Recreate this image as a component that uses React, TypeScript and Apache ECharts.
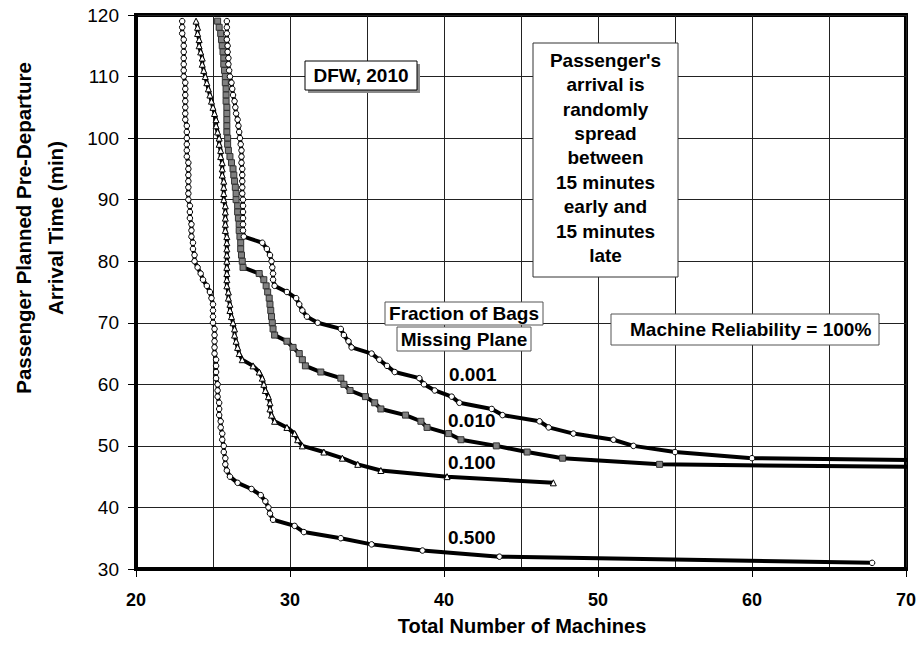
import React, { useEffect, useRef } from "react";
import * as echarts from "echarts";

// Planned pre-departure arrival time (min), one point per minute
const arrivalTimes = [
  119, 118, 117, 116, 115, 114, 113, 112, 111, 110,
  109, 108, 107, 106, 105, 104, 103, 102, 101, 100,
  99, 98, 97, 96, 95, 94, 93, 92, 91, 90,
  89, 88, 87, 86, 85, 84, 83, 82, 81, 80,
  79, 78, 77, 76, 75, 74, 73, 72, 71, 70,
  69, 68, 67, 66, 65, 64, 63, 62, 61, 60,
  59, 58, 57, 56, 55, 54, 53, 52, 51, 50,
  49, 48, 47, 46, 45, 44, 43, 42, 41, 40,
  39, 38, 37, 36, 35, 34, 33, 32, 31,
];

// Total number of machines needed, for each arrival time above (same order)
const machines0500 = [
  23.0, 23.0, 23.0, 23.1, 23.1, 23.1, 23.1, 23.1, 23.1, 23.1,
  23.2, 23.2, 23.2, 23.2, 23.2, 23.2, 23.2, 23.3, 23.3, 23.3,
  23.3, 23.3, 23.3, 23.4, 23.4, 23.4, 23.4, 23.4, 23.4, 23.4,
  23.5, 23.5, 23.5, 23.6, 23.6, 23.6, 23.7, 23.7, 23.8, 23.8,
  24.0, 24.2, 24.35, 24.6, 24.8, 24.9, 25.0, 25.0, 25.0, 25.0,
  25.1, 25.1, 25.1, 25.1, 25.1, 25.2, 25.2, 25.2, 25.2, 25.3,
  25.3, 25.3, 25.4, 25.4, 25.4, 25.5, 25.5, 25.6, 25.6, 25.7,
  25.7, 25.8, 25.8, 25.9, 26.1, 26.6, 27.5, 28.1, 28.4, 28.6,
  28.7, 28.9, 30.3, 30.9, 33.3, 35.3, 38.6, 43.6, 67.8,
];
const machines0100 = [
  23.9, 24.0, 24.0, 24.1, 24.1, 24.2, 24.3, 24.3, 24.4, 24.5,
  24.6, 24.7, 24.8, 24.9, 25.0, 25.1, 25.2, 25.2, 25.3, 25.4,
  25.4, 25.5, 25.5, 25.6, 25.6, 25.6, 25.7, 25.7, 25.7, 25.7,
  25.8, 25.8, 25.8, 25.8, 25.8, 25.9, 25.9, 25.9, 25.9, 25.9,
  25.9, 25.9, 25.9, 25.9, 26.0, 26.0, 26.1, 26.1, 26.2, 26.3,
  26.4, 26.4, 26.5, 26.6, 26.7, 26.9, 27.6, 28.0, 28.2, 28.3,
  28.4, 28.6, 28.7, 28.7, 28.8, 29.0, 29.8, 30.3, 30.5, 30.8,
  32.2, 33.4, 34.4, 35.9, 40.2, 47.1,
];
const machines0010 = [
  25.3, 25.4, 25.5, 25.55, 25.6, 25.65, 25.7, 25.7, 25.75, 25.8,
  25.8, 25.85, 25.85, 25.85, 25.9, 25.9, 25.9, 25.9, 25.9, 25.95,
  25.95, 26.0, 26.1, 26.2, 26.3, 26.35, 26.4, 26.45, 26.5, 26.5,
  26.6, 26.6, 26.65, 26.7, 26.7, 26.75, 26.8, 26.8, 26.85, 26.9,
  26.95, 28.0, 28.3, 28.45, 28.55, 28.65, 28.7, 28.75, 28.8, 28.85,
  28.9, 29.0, 29.8, 30.2, 30.6, 30.8, 31.0, 32.0, 33.3, 33.5,
  33.9, 34.9, 35.5, 35.9, 37.5, 38.5, 38.9, 40.3, 41.1, 43.4,
  45.4, 47.7, 54.0, 94.0,
];
const machines0001 = [
  25.9, 25.9, 25.9, 25.9, 25.95, 25.95, 26.0, 26.0, 26.05, 26.1,
  26.2, 26.25, 26.3, 26.4, 26.45, 26.5, 26.6, 26.65, 26.7, 26.75,
  26.8, 26.85, 26.85, 26.85, 26.9, 26.9, 26.9, 26.9, 26.9, 26.95,
  26.95, 26.95, 26.95, 26.95, 26.95, 27.0, 28.2, 28.5, 28.7, 28.8,
  28.85, 28.9, 28.9, 29.0, 29.8, 30.4, 30.6, 30.8, 31.1, 31.8,
  33.3, 33.5, 33.8, 34.0, 35.3, 35.8, 36.3, 36.8, 38.4, 38.7,
  39.4, 40.5, 41.0, 43.1, 43.8, 46.2, 46.8, 48.4, 51.0, 52.3,
  55.0, 60.0, 93.0,
];

const seriesNames = ["0.500", "0.100", "0.010", "0.001"];
const xTicks = [20, 30, 40, 50, 60, 70];
const yTicks = [30, 40, 50, 60, 70, 80, 90, 100, 110, 120];

const FONT = "'Liberation Sans', Arial, sans-serif";

function pairs(xs: number[]) {
  return xs.map((x, i) => [x, arrivalTimes[i]]);
}

export default function App() {
  const ref = useRef<HTMLDivElement>(null);

  useEffect(() => {
    document.body.style.margin = "0";
    if (!ref.current) return;
    const chart = echarts.init(ref.current, null, { renderer: "svg" });

    const lineBase = {
      type: "line" as const,
      showAllSymbol: true,
      clip: true,
      smooth: false,
      lineStyle: { color: "#000", width: 4 },
      z: 3,
    };

    const annText = (
      text: string,
      x: number,
      y: number,
      align: string = "center",
      extra: any = {}
    ) => ({
      type: "text",
      x,
      y,
      z: 20,
      style: {
        text,
        fill: "#000",
        font: `bold 19px ${FONT}`,
        textAlign: align,
        textVerticalAlign: "middle",
        ...extra,
      },
    });

    const box = (x: number, y: number, w: number, h: number, stroke = "#555") => ({
      type: "rect",
      z: 15,
      shape: { x, y, width: w, height: h },
      style: { fill: "#fff", stroke, lineWidth: 1 },
    });

    const option: any = {
      animation: false,
      backgroundColor: "#fff",
      grid: {
        left: 136,
        right: 11,
        top: 15,
        bottom: 78,
        show: true,
        borderColor: "#000",
        borderWidth: 4,
        backgroundColor: "transparent",
      },
      xAxis: {
        type: "value",
        min: xTicks[0],
        max: xTicks[xTicks.length - 1],
        interval: 10,
        axisLine: { show: true, lineStyle: { color: "#000", width: 4 } },
        axisTick: { show: true, length: 8, lineStyle: { color: "#000", width: 1 } },
        minorTick: { show: false, splitNumber: 2 },
        minorSplitLine: { show: true, lineStyle: { color: "#222", width: 1 } },
        splitLine: { show: true, lineStyle: { color: "#222", width: 1 } },
        axisLabel: {
          color: "#000",
          fontFamily: FONT,
          fontWeight: "bold",
          fontSize: 18,
          margin: 22,
        },
      },
      yAxis: {
        type: "value",
        min: yTicks[0],
        max: yTicks[yTicks.length - 1],
        interval: 10,
        axisLine: { show: true, lineStyle: { color: "#000", width: 4 } },
        axisTick: { show: true, length: 8, lineStyle: { color: "#000", width: 1 } },
        splitLine: { show: true, lineStyle: { color: "#222", width: 1 } },
        axisLabel: {
          color: "#000",
          fontFamily: FONT,
          fontSize: 19,
          margin: 17,
        },
      },
      series: [
        {
          ...lineBase,
          name: seriesNames[0],
          data: pairs(machines0500),
          symbol: "circle",
          symbolSize: 5.5,
          itemStyle: { color: "#fff", borderColor: "#000", borderWidth: 1 },
        },
        {
          ...lineBase,
          name: seriesNames[1],
          data: pairs(machines0100),
          symbol: "triangle",
          symbolSize: 6,
          itemStyle: { color: "#fff", borderColor: "#000", borderWidth: 1 },
        },
        {
          ...lineBase,
          name: seriesNames[2],
          data: pairs(machines0010),
          symbol: "rect",
          symbolSize: 6,
          itemStyle: { color: "#808080", borderColor: "#333", borderWidth: 1 },
        },
        {
          ...lineBase,
          name: seriesNames[3],
          data: pairs(machines0001),
          symbol: "circle",
          symbolSize: 5.5,
          itemStyle: { color: "#fff", borderColor: "#000", borderWidth: 1 },
        },
      ],
      graphic: [
        // DFW label with shadow
        {
          type: "rect",
          z: 14,
          shape: { x: 308, y: 64, width: 112, height: 29 },
          style: { fill: "#8a8a8a" },
        },
        box(305, 61, 112, 29, "#000"),
        annText("DFW, 2010", 361, 75.5),
        // Passenger arrival description
        box(533, 43, 145, 234, "#333"),
        annText(
          "Passenger's\narrival is\nrandomly\nspread\nbetween\n15 minutes\nearly and\n15 minutes\nlate",
          605.5,
          48,
          "center",
          { textVerticalAlign: "top", lineHeight: 24.4 }
        ),
        // Fraction of bags title
        box(385, 302, 158, 23, "#555"),
        annText("Fraction of Bags", 464, 313.5),
        box(397, 327, 134, 24, "#555"),
        annText("Missing Plane", 464, 339),
        // Reliability
        box(611, 314, 268, 31, "#555"),
        annText("Machine Reliability = 100%", 630, 329.5, "left"),
        // series labels
        annText(seriesNames[3], 449, 374, "left"),
        annText(seriesNames[2], 448, 420, "left"),
        annText(seriesNames[1], 448, 462, "left"),
        annText(seriesNames[0], 448, 537, "left"),
        // axis titles
        {
          type: "text",
          x: 522,
          y: 626,
          style: {
            text: "Total Number of Machines",
            fill: "#000",
            font: `bold 20px ${FONT}`,
            textAlign: "center",
            textVerticalAlign: "middle",
          },
        },
        {
          type: "text",
          x: 39,
          y: 228,
          rotation: Math.PI / 2,
          style: {
            text: "Passenger Planned Pre-Departure\nArrival Time (min)",
            fill: "#000",
            font: `bold 20.5px ${FONT}`,
            textAlign: "center",
            textVerticalAlign: "middle",
            lineHeight: 32,
          },
        },
      ],
    };

    chart.setOption(option);
    return () => chart.dispose();
  }, []);

  return <div ref={ref} style={{ width: 919, height: 647 }} />;
}
